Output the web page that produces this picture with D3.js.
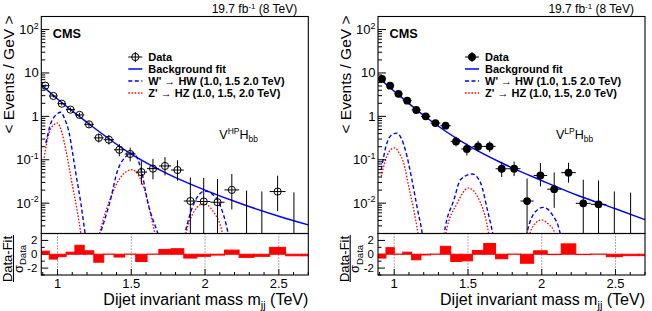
<!DOCTYPE html>
<html><head><meta charset="utf-8">
<script src="https://cdn.jsdelivr.net/npm/d3@7/dist/d3.min.js"></script>
<style>
body{margin:0;background:#fff;}
svg{display:block;font-family:"Liberation Sans",Arial,Helvetica,sans-serif;}
</style></head><body>
<svg id="c" width="652" height="311"></svg>
<script>
// ---------------- data ----------------
const binEdges = [0.890,0.944,1.000,1.058,1.118,1.181,1.246,1.313,1.383,1.455,1.530,1.607,1.687,1.770,1.856,1.945,2.037,2.132,2.231,2.332,2.438,2.546,2.659,2.775];
const xTicks = [1, 1.5, 2, 2.5];
const xTickLabels = ["1", "1.5", "2", "2.5"];
const yTicks = [0.01, 0.1, 1, 10, 100];
const yTickBase = ["10", "10", "1", "10", "10"];
const yTickExp = ["-2", "-1", "", "", "2"];
const resTicks = [-2, 0, 2];

// HP category (open markers), events / GeV
const hpValues  = [5.1,2.95,1.96,1.43,1.08,0.655,0.32,0.29,0.17,0.136,0.052,0.0625,0.072,0.058,0.0112,0.0109,0.0105,0.0202,0,0,0.0185,0];
const hpErrLow  = [4.8,2.72,1.78,1.28,0.95,0.56,0.25,0.225,0.12,0.092,0.027,0.0355,0.0436,0.033,0.0019,0.0019,0.0018,0.00715,0,0,0.00656,0];
const hpErrHigh = [5.4,3.18,2.14,1.59,1.21,0.76,0.40,0.37,0.23,0.19,0.093,0.105,0.115,0.0975,0.039,0.038,0.036,0.0468,0.0195,0.0187,0.0429,0.0177];
const hpResiduals = [0.45,-0.7,-0.35,0.3,1.3,0.5,-1.15,0.03,-0.4,0.03,-1.05,0.03,0.7,0.8,-0.55,-0.3,-0.12,0.6,-0.45,-0.3,1.0,-0.22,-0.22];
const hpFitMass   = [0.89,1.0,1.2,1.5,1.75,2.0,2.25,2.5,2.7];
const hpFitValues = [5.37,2.51,0.724,0.135,0.0468,0.02,0.00955,0.00501,0.00316];
const hpWprime = [
  [[0.921,0.24],[0.955,0.7],[0.99,1.08],[1.022,1.24],[1.05,0.85],[1.079,0.41],[1.1,0.16],[1.124,0.049],[1.158,0.01],[1.187,0.002],[1.2,0.001]],
  [[1.27,0.0012],[1.29,0.002],[1.353,0.01],[1.409,0.059],[1.46,0.115],[1.511,0.143],[1.567,0.059],[1.613,0.01],[1.68,0.002],[1.7,0.0012]],
  [[1.85,0.0012],[1.864,0.002],[1.931,0.011],[1.965,0.0165],[2.0,0.019],[2.045,0.0165],[2.09,0.011],[2.157,0.002],[2.17,0.0012]]
];
const hpZprime = [
  [[0.909,0.11],[0.943,0.42],[0.975,0.64],[1.0,0.70],[1.03,0.42],[1.056,0.17],[1.102,0.0243],[1.136,0.0059],[1.158,0.002],[1.17,0.001]],
  [[1.27,0.0012],[1.285,0.002],[1.364,0.0143],[1.431,0.041],[1.506,0.059],[1.55,0.043],[1.59,0.0204],[1.66,0.002],[1.675,0.0012]],
  [[1.855,0.0012],[1.87,0.002],[1.93,0.0068],[1.99,0.0097],[2.05,0.0068],[2.118,0.002],[2.13,0.0012]]
];

// LP category (filled markers)
const lpValues  = [7.3,5.1,3.3,2.3,1.4,1.0,0.70,0.61,0.265,0.177,0.203,0.203,0.062,0.062,0.0112,0.0435,0.021,0.0505,0.0099,0.0094,0,0];
const lpErrLow  = [6.93,4.8,3.06,2.1,1.25,0.88,0.60,0.52,0.204,0.125,0.156,0.15,0.04,0.042,0.0019,0.0243,0.0078,0.0297,0.0017,0.0016,0,0];
const lpErrHigh = [7.67,5.4,3.54,2.5,1.55,1.12,0.80,0.71,0.339,0.236,0.274,0.264,0.09,0.091,0.037,0.084,0.051,0.085,0.0347,0.0335,0.0186,0.0175];
const lpResiduals = [-0.55,0.95,0.03,0.3,-0.8,-0.1,0.03,1.15,-1.05,-0.95,0.55,1.55,-0.65,0.03,-1.3,0.5,-0.05,1.5,-0.05,0.03,-0.35,-0.2,-0.2];
const lpFitMass   = [0.89,1.0,1.2,1.5,1.75,2.0,2.25,2.5,2.7];
const lpFitValues = [7.94,3.80,1.047,0.214,0.0776,0.0331,0.0148,0.00741,0.00417];
const lpWprime = [
  [[0.912,0.059],[0.95,0.24],[0.985,0.38],[1.018,0.41],[1.05,0.3],[1.075,0.17],[1.12,0.0347],[1.154,0.0084],[1.19,0.002],[1.2,0.0012]],
  [[1.33,0.0012],[1.339,0.002],[1.405,0.012],[1.45,0.035],[1.529,0.047],[1.586,0.029],[1.631,0.0071],[1.668,0.002],[1.68,0.0012]],
  [[1.89,0.0012],[1.9,0.002],[1.96,0.0065],[2.01,0.008],[2.07,0.0055],[2.125,0.002],[2.135,0.0012]]
];
const lpZprime = [
  [[0.912,0.041],[0.95,0.12],[0.98,0.175],[1.003,0.187],[1.035,0.14],[1.064,0.084],[1.098,0.0243],[1.132,0.0071],[1.161,0.002],[1.17,0.0012]],
  [[1.34,0.0012],[1.35,0.002],[1.427,0.01],[1.502,0.0223],[1.586,0.01],[1.64,0.002],[1.65,0.0012]],
  [[1.91,0.0012],[1.92,0.002],[1.96,0.0035],[2.0,0.0041],[2.045,0.0033],[2.09,0.002],[2.1,0.0012]]
];

// ---------------- drawing ----------------
const svg = d3.select("#c");
const W = 267, T = 16.5, B = 233.5, LB = 275;
const BLUE = "#0000ff", RED = "#ff0000";

function drawPanel(id, left, opt) {
  const g = svg.append("g").attr("transform", `translate(${left},0)`);
  const x = d3.scaleLinear().domain([0.89, 2.7]).range([0, W]);
  const y = d3.scaleLog().domain([0.002, 200]).range([B, T]);
  const yr = d3.scaleLinear().domain([-3, 3]).range([LB, B]);

  const defs = g.append("defs");
  defs.append("clipPath").attr("id", "up" + id).append("rect").attr("x", 0).attr("y", T).attr("width", W).attr("height", B - T);
  defs.append("clipPath").attr("id", "lo" + id).append("rect").attr("x", 0).attr("y", B).attr("width", W).attr("height", LB - B);

  // ----- upper pad -----
  const up = g.append("g").attr("clip-path", `url(#up${id})`);
  const ly = v => y(Math.max(v, 0.0008));

  // signal curves
  const line = d3.line().x(d => x(d[0])).y(d => ly(d[1])).curve(d3.curveMonotoneX);
  opt.zp.forEach(seg => up.append("path").attr("d", line(seg)).attr("fill", "none")
    .attr("stroke", RED).attr("stroke-width", 1.3).attr("stroke-dasharray", "1.6,1.6"));
  opt.wp.forEach(seg => up.append("path").attr("d", line(seg)).attr("fill", "none")
    .attr("stroke", BLUE).attr("stroke-width", 1.4).attr("stroke-dasharray", "4,2.5"));

  // background fit
  const fitPts = opt.fitMass.map((m, i) => [m, opt.fitValues[i]]);
  up.append("path").attr("d", d3.line().x(d => x(d[0])).y(d => y(d[1])).curve(d3.curveMonotoneX)(fitPts))
    .attr("fill", "none").attr("stroke", BLUE).attr("stroke-width", 1.5);

  // data points
  opt.values.forEach((v, i) => {
    const x0 = x(binEdges[i]), x1 = x(binEdges[i + 1]), xc = (x0 + x1) / 2;
    const yt = ly(opt.errHigh[i]), yb = ly(opt.errLow[i]);
    up.append("line").attr("x1", xc).attr("x2", xc).attr("y1", yt).attr("y2", yb).attr("stroke", "#000").attr("stroke-width", 1);
    if (v > 0) {
      const yc = y(v);
      up.append("line").attr("x1", x0).attr("x2", x1).attr("y1", yc).attr("y2", yc).attr("stroke", "#000").attr("stroke-width", 1);
      if (opt.open) {
        up.append("circle").attr("cx", xc).attr("cy", yc).attr("r", 3.6).attr("fill", "none").attr("stroke", "#000").attr("stroke-width", 1);
      } else {
        up.append("circle").attr("cx", xc).attr("cy", yc).attr("r", 3.9).attr("fill", "#000");
      }
    }
  });

  // upper axis ticks
  const ax = g.append("g").attr("stroke", "#000").attr("stroke-width", 1);
  for (let e = -3; e <= 2; e++) {
    for (let k = 1; k <= 9; k++) {
      const v = k * Math.pow(10, e);
      if (v < 0.002 - 1e-9 || v > 200 + 1e-9) continue;
      const len = k === 1 ? 8 : 4;
      ax.append("line").attr("x1", 0).attr("x2", len).attr("y1", y(v)).attr("y2", y(v));
    }
  }
  // upper tick labels
  yTicks.forEach((v, i) => {
    const t = g.append("text").attr("x", -2.5).attr("y", y(v) + 4.5).attr("text-anchor", "end")
      .attr("font-size", 13).attr("fill", "#000");
    t.append("tspan").text(yTickBase[i]);
    if (yTickExp[i]) t.append("tspan").attr("dy", -5.5).attr("font-size", 9).text(yTickExp[i]);
  });

  // frames
  g.append("rect").attr("x", 0).attr("y", T).attr("width", W).attr("height", B - T).attr("fill", "none").attr("stroke", "#000").attr("stroke-width", 1.1);

  // ----- lower pad -----
  const lo = g.append("g").attr("clip-path", `url(#lo${id})`);
  xTicks.forEach(t => lo.append("line").attr("x1", x(t)).attr("x2", x(t)).attr("y1", B).attr("y2", LB)
    .attr("stroke", "#444").attr("stroke-width", 0.9).attr("stroke-dasharray", "1,2"));
  opt.residuals.forEach((r, i) => {
    const x0 = x(binEdges[i]), x1 = x(binEdges[i + 1]);
    const ya = yr(Math.max(r, 0)), yb = yr(Math.min(r, 0));
    lo.append("rect").attr("x", x0).attr("y", ya).attr("width", x1 - x0).attr("height", Math.max(yb - ya, 0))
      .attr("fill", RED).attr("stroke", RED).attr("stroke-width", 1);
  });
  g.append("rect").attr("x", 0).attr("y", B).attr("width", W).attr("height", LB - B).attr("fill", "none").attr("stroke", "#000").attr("stroke-width", 1.1);
  // lower y ticks
  [-3, -2, -1, 0, 1, 2, 3].forEach(v => {
    const len = (v % 2 === 0) ? 7 : 3.5;
    ax.append("line").attr("x1", 0).attr("x2", len).attr("y1", yr(v)).attr("y2", yr(v));
  });
  resTicks.forEach(v => g.append("text").attr("x", -4).attr("y", yr(v) + 4).attr("text-anchor", "end")
    .attr("font-size", 11.5).text(v));
  // lower x ticks
  for (let k = 9; k <= 27; k++) {
    const v = k / 10;
    const major = (k % 5 === 0);
    ax.append("line").attr("x1", x(v)).attr("x2", x(v)).attr("y1", LB).attr("y2", LB - (major ? 6 : 3));
  }
  xTicks.forEach((t, i) => g.append("text").attr("x", x(t)).attr("y", 288).attr("text-anchor", "middle")
    .attr("font-size", 13).text(xTickLabels[i]));

  // ----- texts -----
  const lumi = g.append("text").attr("x", W - 11).attr("y", 13).attr("text-anchor", "end").attr("font-size", 12);
  lumi.append("tspan").text("19.7 fb");
  lumi.append("tspan").attr("dy", -4.5).attr("font-size", 8).text("-1");
  lumi.append("tspan").attr("dy", 4.5).text(" (8 TeV)");

  g.append("text").attr("x", 11.5).attr("y", 37.7).attr("font-size", 12.7).attr("font-weight", "bold").text("CMS");

  // legend
  const lx = 94, tx = 107;
  const rows = [57, 69, 81, 93];
  const lg = g.append("g");
  lg.append("line").attr("x1", lx - 7).attr("x2", lx + 7).attr("y1", rows[0]).attr("y2", rows[0]).attr("stroke", "#000");
  lg.append("line").attr("x1", lx).attr("x2", lx).attr("y1", rows[0] - 5).attr("y2", rows[0] + 5).attr("stroke", "#000");
  if (opt.open) lg.append("circle").attr("cx", lx).attr("cy", rows[0]).attr("r", 3.6).attr("fill", "none").attr("stroke", "#000");
  else lg.append("circle").attr("cx", lx).attr("cy", rows[0]).attr("r", 3.9).attr("fill", "#000");
  lg.append("line").attr("x1", lx - 7).attr("x2", lx + 7).attr("y1", rows[1]).attr("y2", rows[1]).attr("stroke", BLUE).attr("stroke-width", 1.5);
  lg.append("line").attr("x1", lx - 7).attr("x2", lx + 7).attr("y1", rows[2]).attr("y2", rows[2]).attr("stroke", BLUE).attr("stroke-width", 1.4).attr("stroke-dasharray", "4,2.5");
  lg.append("line").attr("x1", lx - 7).attr("x2", lx + 7).attr("y1", rows[3]).attr("y2", rows[3]).attr("stroke", RED).attr("stroke-width", 1.3).attr("stroke-dasharray", "1.6,1.6");
  const labels = ["Data", "Background fit", "W' \u2192 HW (1.0, 1.5 2.0 TeV)", "Z' \u2192 HZ (1.0, 1.5, 2.0 TeV)"];
  labels.forEach((s, i) => lg.append("text").attr("x", tx).attr("y", rows[i] + 4).attr("font-size", 11)
    .attr("font-weight", "bold").text(s));

  // channel label
  const ch = g.append("text").attr("x", 178).attr("y", 139).attr("font-size", 12.5);
  ch.append("tspan").text("V");
  ch.append("tspan").attr("dy", -5).attr("font-size", 8.5).text(opt.tag);
  ch.append("tspan").attr("dy", 5).text("H");
  ch.append("tspan").attr("dy", 3).attr("font-size", 8.5).text("bb");

  // y title
  g.append("text").attr("transform", `translate(-27,${T - 1}) rotate(-90)`).attr("text-anchor", "end")
    .attr("font-size", 15.5).text("< Events / GeV >");
  // residual title (fraction)
  const fy = 259;
  g.append("text").attr("transform", `translate(-29,${fy}) rotate(-90)`).attr("text-anchor", "middle")
    .attr("font-size", 13).text("Data-Fit");
  g.append("line").attr("x1", -27.8).attr("x2", -27.8).attr("y1", fy - 24).attr("y2", fy + 23).attr("stroke", "#000").attr("stroke-width", 1.1);
  const sg = g.append("text").attr("transform", `translate(-18.8,${fy}) rotate(-90)`).attr("text-anchor", "middle").attr("font-size", 13);
  sg.append("tspan").text("\u03C3");
  sg.append("tspan").attr("dy", 3.3).attr("font-size", 9.5).text("Data");

  // x title
  const xt = g.append("text").attr("x", W).attr("y", 305).attr("text-anchor", "end").attr("font-size", 16);
  xt.append("tspan").text("Dijet invariant mass m");
  xt.append("tspan").attr("dy", 4).attr("font-size", 11).text("jj");
  xt.append("tspan").attr("dy", -4).text(" (TeV)");
}

drawPanel("hp", 41.3, {open: true, values: hpValues, errLow: hpErrLow, errHigh: hpErrHigh, residuals: hpResiduals,
  fitMass: hpFitMass, fitValues: hpFitValues, wp: hpWprime, zp: hpZprime, tag: "HP"});
drawPanel("lp", 378, {open: false, values: lpValues, errLow: lpErrLow, errHigh: lpErrHigh, residuals: lpResiduals,
  fitMass: lpFitMass, fitValues: lpFitValues, wp: lpWprime, zp: lpZprime, tag: "LP"});
</script>
</body></html>
